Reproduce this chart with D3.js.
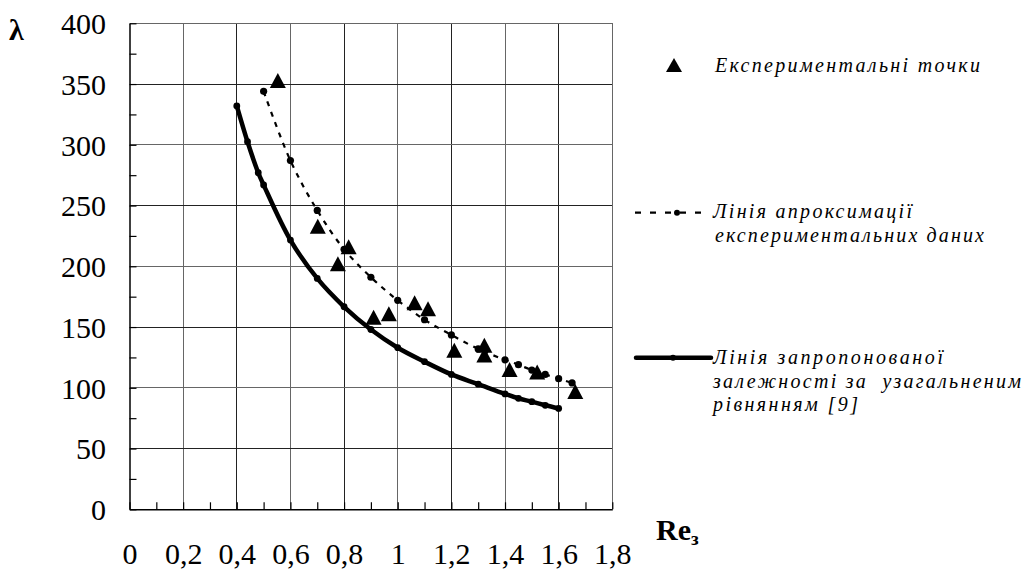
<!DOCTYPE html>
<html>
<head>
<meta charset="utf-8">
<script src="https://cdn.jsdelivr.net/npm/d3@7"></script>
</head>
<body style="margin:0">
<div id="chart"></div>
<script>
// experimental points (triangles)
var expX = [0.553, 0.702, 0.777, 0.817, 0.91, 0.967, 1.063, 1.113, 1.211, 1.323, 1.323, 1.417, 1.52, 1.662]
var expY = [353, 233, 202, 216, 158, 161, 170, 165, 131, 135, 127, 115, 113, 97]

// approximation line (dashed)
var approxX = [0.5, 0.6, 0.7, 0.8, 0.9, 1.0, 1.1, 1.2, 1.3, 1.4, 1.45, 1.5, 1.55, 1.6, 1.65]
var approxY = [344, 287, 246, 214, 191, 172, 156, 143.5, 132, 123, 119, 114.6, 111, 107.5, 104]

// proposed dependence (solid)
var propX = [0.4, 0.44, 0.48, 0.5, 0.6, 0.7, 0.8, 0.9, 1.0, 1.1, 1.2, 1.3, 1.4, 1.45, 1.5, 1.55, 1.6]
var propY = [332, 302.5, 277, 267, 221.6, 190, 166.7, 148, 133, 121.5, 111, 103, 95, 91.3, 88.6, 85.6, 83]

var xTicks = [0, 0.2, 0.4, 0.6, 0.8, 1, 1.2, 1.4, 1.6, 1.8]
var xMinor = [0.1, 0.3, 0.5, 0.7, 0.9, 1.1, 1.3, 1.5, 1.7]
var yTicks = [0, 50, 100, 150, 200, 250, 300, 350, 400]
var yMinor = [25, 75, 125, 175, 225, 275, 325, 375]

var legendLabels = [
  ["Експериментальні точки"],
  ["Лінія апроксимації", "експериментальних даних"],
  ["Лінія запропонованої", "залежності за  узагальненим", "рівнянням [9]"]
]

var W = 1022, H = 569
var fontSerif = "'Liberation Serif', monospace"

var svg = d3.select("#chart").append("svg").attr("width", W).attr("height", H)
  .style("display", "block")

// put text in serif everywhere
function serifText(sel, size) {
  sel.attr("font-family", fontSerif)
    .style("font-family", fontSerif)
    .style("font-size", size + "px")
}

var x = d3.scaleLinear().domain([0, 1.8]).range([129.5, 612.3])
var y = d3.scaleLinear().domain([0, 400]).range([509.3, 23.3])

// grid
var grid = svg.append("g").attr("shape-rendering", "crispEdges")
grid.selectAll(".gx").data(xTicks.slice(1)).enter().append("line")
  .attr("x1", function (d) { return x(d) }).attr("x2", function (d) { return x(d) })
  .attr("y1", y(0)).attr("y2", y(400))
  .attr("stroke", function (d, i) { return i % 2 ? "#222" : "#666" }).attr("stroke-width", 1)
grid.selectAll(".gy").data(yTicks.slice(1)).enter().append("line")
  .attr("x1", x(0)).attr("x2", x(1.8))
  .attr("y1", function (d) { return y(d) }).attr("y2", function (d) { return y(d) })
  .attr("stroke", function (d, i) { return i % 2 ? "#666" : "#222" }).attr("stroke-width", 1)

// axes: ticks inside, labels outside
function styleAxis(g) {
  g.select(".domain").attr("stroke", "#000").attr("stroke-width", 1.5)
  g.selectAll(".tick line").attr("stroke", "#000").attr("stroke-width", 1.2)
}

svg.append("g").attr("transform", "translate(0," + y(0) + ")")
  .call(d3.axisBottom(x).tickValues(xTicks.concat(xMinor)).tickSize(-7).tickSizeOuter(0).tickFormat(""))
  .call(styleAxis)
svg.append("g").attr("transform", "translate(" + x(0) + ",0)")
  .call(d3.axisLeft(y).tickValues(yTicks.concat(yMinor)).tickSize(-7).tickSizeOuter(0).tickFormat(""))
  .call(styleAxis)

var xl = svg.append("g").attr("transform", "translate(0," + y(0) + ")")
  .call(d3.axisBottom(x).tickValues(xTicks).tickSize(0).tickPadding(33)
    .tickFormat(function (d) { return String(d).replace(".", ",") }))
xl.select(".domain").remove()
serifText(xl, 30)
serifText(xl.selectAll("text").attr("fill", "#000"), 30)

var yl = svg.append("g").attr("transform", "translate(" + x(0) + ",0)")
  .call(d3.axisLeft(y).tickValues(yTicks).tickSize(0).tickPadding(23.5))
yl.select(".domain").remove()
serifText(yl, 30)
serifText(yl.selectAll("text").attr("fill", "#000").attr("dy", "0.34em"), 30)

// axis titles
var lam = svg.append("text").attr("x", 9).attr("y", 40).style("font-weight", "bold").text("λ")
serifText(lam, 30)
var re = svg.append("text").attr("x", 656).attr("y", 540).style("font-weight", "bold")
serifText(re, 30)
re.append("tspan").text("Re")
re.append("tspan").style("font-size", "19px").attr("dy", 5).text("з")

// lines
var propData = propX.map(function (d, i) { return [d, propY[i]] })
var approxData = approxX.map(function (d, i) { return [d, approxY[i]] })
var expData = expX.map(function (d, i) { return [d, expY[i]] })

var line = d3.line()
  .x(function (d) { return x(d[0]) })
  .y(function (d) { return y(d[1]) })
  .curve(d3.curveCatmullRom)

svg.append("path").datum(propData).attr("d", line)
  .attr("fill", "none").attr("stroke", "#000").attr("stroke-width", 4.5).attr("stroke-linecap", "round")
svg.selectAll(".pdot").data(propData).enter().append("circle")
  .attr("cx", function (d) { return x(d[0]) }).attr("cy", function (d) { return y(d[1]) })
  .attr("r", 3.4).attr("fill", "#000")

svg.append("path").datum(approxData).attr("d", line)
  .attr("fill", "none").attr("stroke", "#000").attr("stroke-width", 2.2).attr("stroke-dasharray", "5,6")
svg.selectAll(".adot").data(approxData).enter().append("circle")
  .attr("cx", function (d) { return x(d[0]) }).attr("cy", function (d) { return y(d[1]) })
  .attr("r", 3.6).attr("fill", "#000")

var tri = "M0,-7.5L8,7.5L-8,7.5Z"
svg.selectAll(".tri").data(expData).enter().append("path")
  .attr("d", tri)
  .attr("transform", function (d) { return "translate(" + x(d[0]) + "," + y(d[1]) + ")" })
  .attr("fill", "#000")

// legend
var lg = svg.append("g")
lg.append("path").attr("d", "M0,-7L8,7L-8,7Z").attr("transform", "translate(674,65)").attr("fill", "#000")

lg.append("line").attr("x1", 635).attr("x2", 703).attr("y1", 212.7).attr("y2", 212.7)
  .attr("stroke", "#000").attr("stroke-width", 2.2).attr("stroke-dasharray", "6,9")
lg.append("circle").attr("cx", 677).attr("cy", 212.7).attr("r", 3).attr("fill", "#000")

lg.append("line").attr("x1", 636).attr("x2", 711).attr("y1", 357.7).attr("y2", 357.7)
  .attr("stroke", "#000").attr("stroke-width", 4.5).attr("stroke-linecap", "round")
lg.append("circle").attr("cx", 673).attr("cy", 357.7).attr("r", 3).attr("fill", "#000")

var legendPos = [
  { x: 715, y: [72], w: [265] },
  { x: 713, y: [218, 242], w: [199, 269] },
  { x: 713, y: [364, 387.5, 411], w: [230, 308, 145] }
]
legendLabels.forEach(function (lines, k) {
  lines.forEach(function (t, j) {
    var tx = lg.append("text")
      .attr("x", legendPos[k].x + (j > 0 && k == 1 ? 2 : 0))
      .attr("y", legendPos[k].y[j])
      .style("font-style", "italic")
      .style("white-space", "pre")
      .attr("textLength", legendPos[k].w[j]).attr("lengthAdjust", "spacing")
      .text(t)
    serifText(tx, 20)
  })
})
</script>
</body>
</html>
